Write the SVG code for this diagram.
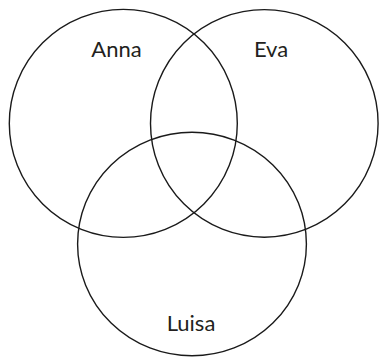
<svg xmlns="http://www.w3.org/2000/svg" width="379" height="359" viewBox="0 0 379 359">
<style>
.c{fill:none;stroke:#1a1a1a;stroke-width:1.4}
.t{font-family:Lato,"Open Sans",sans-serif;font-size:22px;fill:#231f20;text-anchor:middle}
</style>
<rect width="379" height="359" fill="#fff"/>
<g id="anna"><circle class="c" cx="123.3" cy="123.4" r="114"/><text class="t" x="116.5" y="57">Anna</text></g>
<g id="eva"><circle class="c" cx="264.3" cy="123.4" r="113.8"/><text class="t" x="271" y="57">Eva</text></g>
<g id="luisa"><ellipse class="c" cx="192" cy="244" rx="114.4" ry="111.8"/><text class="t" x="191" y="331">Luisa</text></g>
<g id="connectors"/>
</svg>
